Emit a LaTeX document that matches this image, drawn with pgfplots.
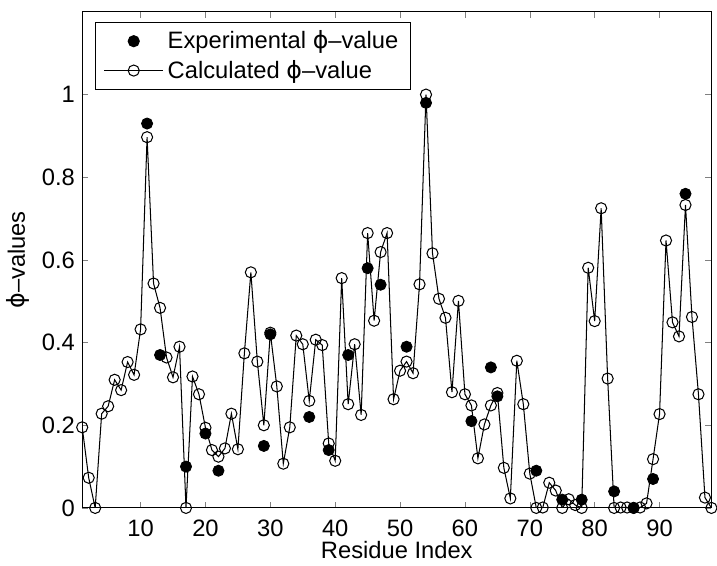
\documentclass[border=0pt]{standalone}
\usepackage{fontspec}
\setmainfont{Liberation Sans}
\newfontfamily\dejavu{DejaVu Sans}
\usepackage{pgfplots}
\pgfplotsset{compat=1.18}
\newcommand{\ph}{{\dejavu ϕ}}
\begin{document}
\begin{tikzpicture}
\begin{axis}[
  scale only axis,
  width=305pt, height=240.4pt,
  xmin=1, xmax=98, ymin=0, ymax=1.2,
  xtick={10,20,...,90},
  ytick={0,0.2,0.4,0.6,0.8,1},
  yticklabels={0,0.2,0.4,0.6,0.8,1},
  tick align=inside,
  tick pos=both,
  major tick length=3pt,
  /pgf/number format/assume math mode=true,
  ticklabel style={font=\fontsize{11.5}{13}\selectfont},
  xticklabel style={yshift=-2.5pt},
  xlabel={Residue Index},
  ylabel={\ph--values},
  label style={font=\fontsize{11.5}{13}\selectfont},
  xlabel style={yshift=5pt},
  ylabel style={yshift=-1pt},
  axis line style={line width=0.5pt},
  legend style={at={(0.0205,0.98)}, anchor=north west, draw=black, line width=0.5pt,
    font=\fontsize{11.5}{15.4}\selectfont, row sep=0pt, inner xsep=4pt, inner ysep=2pt},
  legend cell align=left,
  legend image code/.code={\draw[#1,mark repeat=2,mark phase=2] plot coordinates {(0cm,0cm) (0.5cm,0cm) (1cm,0cm)};},
]
\addplot[only marks, mark=*, mark size=2.7pt, black] coordinates {
(11,0.93) (13,0.37) (17,0.10) (20,0.18) (22,0.09) (29,0.15) (30,0.42) (36,0.22)
(39,0.14) (42,0.37) (45,0.58) (47,0.54) (51,0.39) (54,0.98) (61,0.21) (64,0.34)
(65,0.27) (71,0.09) (75,0.02) (78,0.02) (83,0.04) (86,0.0) (89,0.07) (94,0.76)
};
\addlegendentry{Experimental \ph--value}
\addplot[black, line width=0.5pt, mark=o, mark size=2.7pt, mark options={line width=0.5pt}] coordinates {
(1,0.195) (2,0.073) (3,0.0) (4,0.228) (5,0.246) (6,0.310) (7,0.285) (8,0.353)
(9,0.322) (10,0.432) (11,0.897) (12,0.543) (13,0.484) (14,0.364) (15,0.316) (16,0.390)
(17,0.0) (18,0.318) (19,0.275) (20,0.194) (21,0.140) (22,0.124) (23,0.144) (24,0.228)
(25,0.142) (26,0.374) (27,0.570) (28,0.354) (29,0.200) (30,0.424) (31,0.294) (32,0.107)
(33,0.195) (34,0.417) (35,0.396) (36,0.259) (37,0.407) (38,0.394) (39,0.156) (40,0.114)
(41,0.556) (42,0.251) (43,0.396) (44,0.225) (45,0.665) (46,0.453) (47,0.619) (48,0.665)
(49,0.263) (50,0.332) (51,0.354) (52,0.326) (53,0.541) (54,1.0) (55,0.616) (56,0.506)
(57,0.460) (58,0.280) (59,0.501) (60,0.275) (61,0.248) (62,0.120) (63,0.202) (64,0.248)
(65,0.278) (66,0.097) (67,0.023) (68,0.356) (69,0.251) (70,0.083) (71,0.0) (72,0.001)
(73,0.061) (74,0.042) (75,0.0) (76,0.021) (77,0.007) (78,0.0) (79,0.581) (80,0.452)
(81,0.725) (82,0.313) (83,0.0) (84,0.001) (85,0.001) (86,0.0) (87,0.001) (88,0.011)
(89,0.118) (90,0.227) (91,0.647) (92,0.449) (93,0.415) (94,0.733) (95,0.462) (96,0.275)
(97,0.025) (98,0.0)
};
\addlegendentry{Calculated \ph--value}
\end{axis}
\path (current axis.north west) ++(0,5.8pt);
\end{tikzpicture}
\end{document}
